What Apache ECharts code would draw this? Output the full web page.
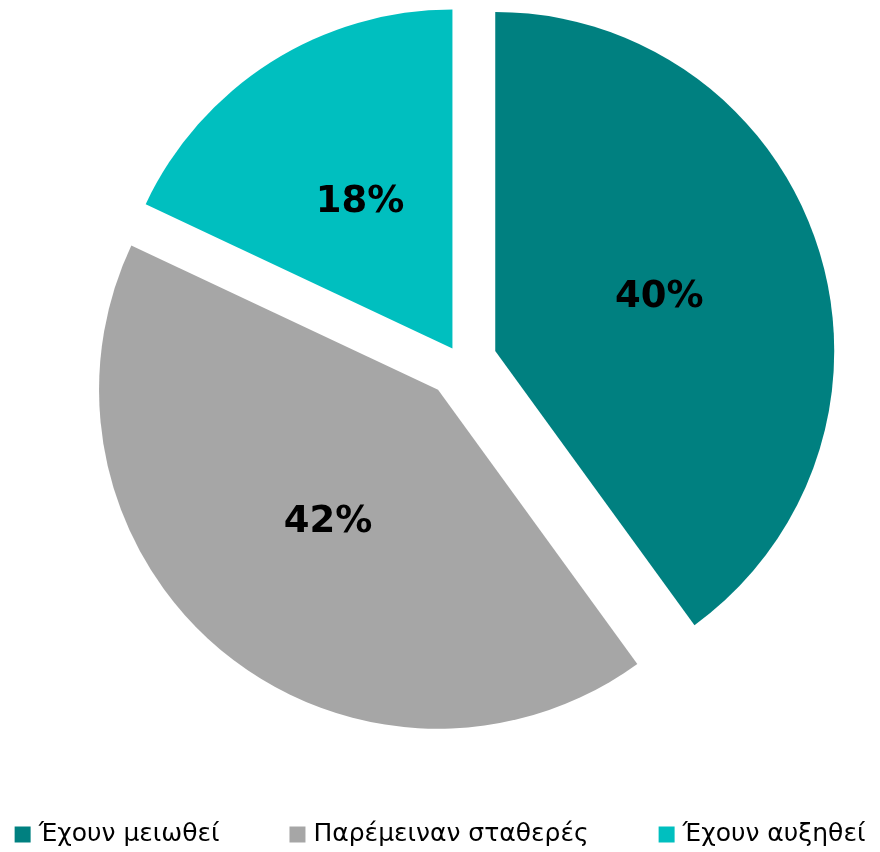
<!DOCTYPE html>
<html>
<head>
  <meta charset="UTF-8">
  <title>Pie</title>
  <script src="https://cdn.jsdelivr.net/npm/echarts@6/dist/echarts.min.js"></script>
  <style>
    body { margin: 0; background: #fff; }
  </style>
</head>
<body>
  <div id="pie" style="width:880px; height:852px;"></div>
  <script>
    // data
    var names = ['Έχουν μειωθεί', 'Παρέμειναν σταθερές', 'Έχουν αυξηθεί'];
    var values = [40, 42, 18];
    var colors = ['#008080', '#A6A6A6', '#00BFBF'];
    // how far each slice is pulled out (px)
    var explode = [36, 36, 16];

    var chart = echarts.init(document.getElementById('pie'), null, {renderer: 'canvas'});

    // one pie series per explode distance, other slices left invisible
    var groups = [];
    explode.forEach(function (d) { if (groups.indexOf(d) < 0) groups.push(d); });

    var series = groups.map(function (d) {
      return {
        type: 'pie',
        center: [461, 362],
        radius: 339,
        startAngle: 90,
        clockwise: true,
        silent: true,
        selectedMode: 'multiple',
        selectedOffset: d,
        animation: false,
        label: {
          show: true,
          position: 'inside',
          formatter: '{c}%',
          color: '#000',
          fontFamily: 'DejaVu Sans',
          fontWeight: 'bold',
          fontSize: 37
        },
        labelLine: { show: false },
        select: { itemStyle: { borderWidth: 0 } },
        emphasis: { disabled: true },
        data: names.map(function (n, i) {
          var mine = explode[i] === d;
          return {
            name: n,
            value: values[i],
            selected: mine,
            itemStyle: { color: colors[i], opacity: mine ? 1 : 0 },
            label: { show: mine }
          };
        })
      };
    });

    chart.setOption({
      backgroundColor: '#fff',
      legend: {
        bottom: 0,
        left: 'center',
        itemWidth: 16,
        itemHeight: 16,
        itemGap: 70,
        icon: 'rect',
        selectedMode: false,
        textStyle: { fontFamily: 'DejaVu Sans', fontSize: 25, color: '#000', padding: [0, 0, 0, 3] },
        data: names.map(function (n, i) {
          return { name: n, itemStyle: { color: colors[i], opacity: 1 } };
        })
      },
      series: series
    });
  </script>
</body>
</html>
